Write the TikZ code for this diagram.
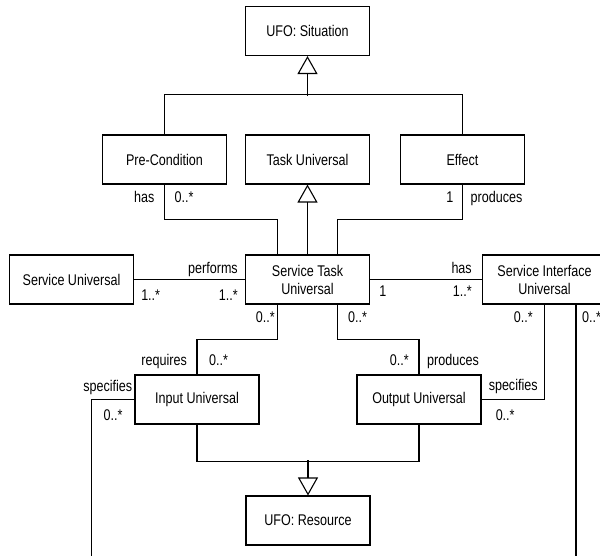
\documentclass[tikz,border=0pt]{standalone}
\usepackage{fontspec}
\usepackage{tikz}
\usetikzlibrary{arrows.meta,calc}
\newfontfamily\umlfont[FakeStretch=0.81]{Liberation Sans}
\newcommand{\umlsize}{\umlfont\fontsize{15.5}{18}\selectfont}

\tikzset{
  classbox/.style={draw, line width=1.1pt, minimum width=124pt, minimum height=49pt,
    inner sep=0pt, align=center, font=\umlsize},
  assoc/.style={line width=1.1pt},
  generalize/.style={line width=1.1pt, -{Triangle[open, length=18pt, width=20pt]}},
  role/.style={font=\umlsize, inner sep=0pt},
}

\begin{document}
\begin{tikzpicture}[x=1pt, y=-1pt]
    \path[fill=white, use as bounding box] (0,0) rectangle (600,556);
    \clip (0,0) rectangle (600,556);
    \foreach \x/\y/\name/\txt in {307.5/31/sit/{UFO: Situation},
      164.5/159.5/pre/{Pre-Condition}, 307.5/159.5/task/{Task Universal},
      462.5/159.5/eff/{Effect}, 71.5/279.5/su/{Service Universal},
      307.5/279.5/stu/{Service Task\\Universal},
      544.5/279.5/siu/{Service Interface\\Universal},
      197/399.5/in/{Input Universal}, 419/399.5/out/{Output Universal},
      308/520.5/res/{UFO: Resource}} {
     \node[classbox] (\name) at (\x,\y) {\txt};
    }
    \coordinate (sitBus) at ($(sit.south)+(0,40)$);
    \coordinate (resBus) at ($(res.north)+(0,-35)$);
    \coordinate (inSink) at ($(in.west)+(-43,200)$);
    \coordinate (siuSink) at ($(siu.south)+(31.5,300)$);
    % generalizations
    \draw[assoc] (pre.north) -- ++(0,-40) -| (eff.north);
    \draw[generalize] (sitBus) -- (sit.south);
    \draw[generalize] (stu.north) -- (task.south);
    \draw[assoc] (in.south) -- ++(0,37) -| (out.south);
    \draw[generalize] (resBus) -- (res.north);
    % associations
    \draw[assoc] (pre.south) -- ++(0,35) -| ([xshift=-30pt]stu.north);
    \draw[assoc] (eff.south) -- ++(0,35) -| ([xshift=30pt]stu.north);
    \draw[assoc] (su.east) -- (stu.west);
    \draw[assoc] (stu.east) -- (siu.west);
    \draw[assoc] ([xshift=-30pt]stu.south) -- ++(0,35) -| (in.north);
    \draw[assoc] ([xshift=30pt]stu.south) -- ++(0,35) -| (out.north);
    \draw[assoc] (out.east) -| (siu.south);
    \draw[assoc] (in.west) -| (inSink);
    \draw[assoc] ([xshift=31.5pt]siu.south) -- (siuSink);
    % role names and multiplicities
    \node[role, anchor=base east] (preHas) at ($(pre.south)+(-10,18)$) {has};
    \node[role, anchor=base west] (preMult) at ($(pre.south)+(10,18)$) {0..*};
    \node[role, anchor=base east] (effMult) at ($(eff.south)+(-9,18)$) {1};
    \node[role, anchor=base west] (effProd) at ($(eff.south)+(8,18)$) {produces};
    \node[role, anchor=base east] (suPerf) at ($(stu.west)+(-7,-6.5)$) {performs};
    \node[role, anchor=base west] (suMult) at ($(su.east)+(7,21)$) {1..*};
    \node[role, anchor=base east] (stuSuMult) at ($(stu.west)+(-7,21)$) {1..*};
    \node[role, anchor=base east] (siuHas) at ($(siu.west)+(-10,-6.5)$) {has};
    \node[role, anchor=base west] (stuSiuMult) at ($(stu.east)+(9,17.5)$) {1};
    \node[role, anchor=base east] (siuMult) at ($(siu.west)+(-10,17.5)$) {1..*};
    \node[role, anchor=base east] (stuInMult) at ($(stu.south)+(-32.5,18)$) {0..*};
    \node[role, anchor=base west] (stuOutMult) at ($(stu.south)+(40.5,18)$) {0..*};
    \node[role, anchor=base east] (inReq) at ($(in.north)+(-10,-9)$) {requires};
    \node[role, anchor=base west] (inMult) at ($(in.north)+(12,-9)$) {0..*};
    \node[role, anchor=base east] (outMult) at ($(out.north)+(-10,-9)$) {0..*};
    \node[role, anchor=base west] (outProd) at ($(out.north)+(8,-9)$) {produces};
    \node[role, anchor=base west] (outSpec) at ($(out.east)+(7,-9)$) {specifies};
    \node[role, anchor=base west] (outSpecMult) at ($(out.east)+(14,21)$) {0..*};
    \node[role, anchor=base east] (inSpec) at ($(in.west)+(-2,-8)$) {specifies};
    \node[role, anchor=base west] (inSpecMult) at ($(in.west)+(-31,21)$) {0..*};
    \node[role, anchor=base east] (siuOutMult) at ($(siu.south)+(-11.5,18)$) {0..*};
    \node[role, anchor=base west] (siuSinkMult) at ($(siu.south)+(37.5,18)$) {0..*};
\end{tikzpicture}
\end{document}
